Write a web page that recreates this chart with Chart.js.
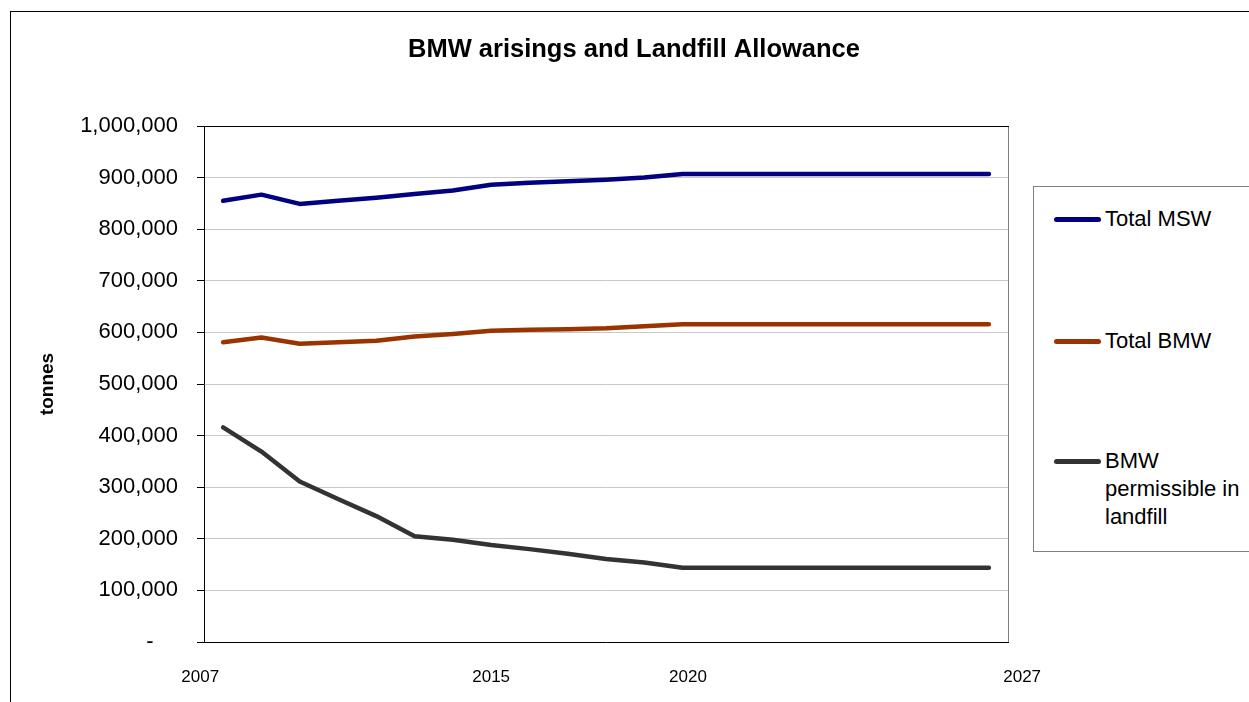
<!DOCTYPE html>
<html>
<head>
<meta charset="utf-8">
<script src="https://cdn.jsdelivr.net/npm/chart.js@4.4.1/dist/chart.umd.min.js"></script>
<style>
  html, body { margin:0; padding:0; background:#fff; overflow:hidden; }
  body { width:1249px; height:702px; position:relative; font-family:"Liberation Sans", Arial, sans-serif; }
  #frame { position:absolute; left:10px; top:11px; width:1270px; height:720px; border:1px solid #000; box-sizing:border-box; }
  #c { position:absolute; left:0; top:0; }
  #legend { position:absolute; left:1033px; top:186px; width:260px; height:366px; border:1px solid #808080; box-sizing:border-box; background:#fff; }
  .item { position:absolute; left:0; }
  .swatch { position:absolute; left:20px; width:47px; height:4.5px; border-radius:3px; }
  .txt { position:absolute; left:71px; width:145px; font-size:22px; line-height:28px; color:#000; }
</style>
</head>
<body>
<div id="frame"></div>
<canvas id="c" width="1249" height="702"></canvas>
<div id="legend"></div>
<script>
// ---- data ----
const years = [2007,2008,2009,2010,2011,2012,2013,2014,2015,2016,2017,2018,2019,2020,2021,2022,2023,2024,2025,2026,2027];
const totalMSW = [855000,867000,849000,855000,861000,868000,875000,886000,890000,893000,896000,900000,907000,907000,907000,907000,907000,907000,907000,907000,907000];
const totalBMW = [581000,590000,578000,581000,584000,592000,597000,603000,605000,606000,608000,612000,616000,616000,616000,616000,616000,616000,616000,616000,616000];
const bmwLandfill = [416000,369000,311000,277000,244000,205000,198000,188000,180000,171000,161000,154000,144000,144000,144000,144000,144000,144000,144000,144000,144000];
const seriesNames = ['Total MSW','Total BMW','BMW permissible in landfill'];
const xTickLabels = ['2007','2015','2020','2027'];
const yTicks = [0,100000,200000,300000,400000,500000,600000,700000,800000,900000,1000000];

// ---- presentation ----
const FONT = '"Liberation Sans", Arial, sans-serif';
const colors = ['#000080','#993300','#333333'];
const xTickPos = [2006.40, 2014.0, 2019.14, 2027.87]; // label placement along the axis

function pts(arr){ return years.map((yr,i)=>({x:yr, y:arr[i]})); }
const dsBase = { borderWidth:4.5, pointRadius:0, pointHoverRadius:0, tension:0, fill:false,
                 borderCapStyle:'round', borderJoinStyle:'round' };

const frame = {
  id:'plotFrame',
  afterDraw(chart){
    const {ctx, chartArea:a} = chart;
    ctx.save();
    ctx.lineWidth = 1;
    ctx.strokeStyle = '#808080';
    ctx.beginPath(); ctx.moveTo(a.right+0.5, a.top); ctx.lineTo(a.right+0.5, a.bottom); ctx.stroke();
    ctx.strokeStyle = '#000';
    ctx.beginPath(); ctx.moveTo(a.left-7, a.top+0.5); ctx.lineTo(a.right+1, a.top+0.5); ctx.stroke();
    ctx.restore();
  }
};

const chart = new Chart(document.getElementById('c'), {
  type:'line',
  data:{
    datasets:[
      Object.assign({label:seriesNames[0], data:pts(totalMSW), borderColor:colors[0], backgroundColor:colors[0]}, dsBase),
      Object.assign({label:seriesNames[1], data:pts(totalBMW), borderColor:colors[1], backgroundColor:colors[1]}, dsBase),
      Object.assign({label:seriesNames[2], data:pts(bmwLandfill), borderColor:colors[2], backgroundColor:colors[2]}, dsBase)
    ]
  },
  options:{
    responsive:false, animation:false, devicePixelRatio:1,
    layout:{ padding:{left:19, right:0, top:0, bottom:0} },
    plugins:{
      legend:{display:false},
      tooltip:{enabled:false},
      title:{ display:true, text:'BMW arisings and Landfill Allowance', color:'#000',
              font:{family:FONT, size:25.5, weight:'bold'}, padding:{top:35, bottom:60.4} }
    },
    scales:{
      x:{
        type:'linear', min:2006.5, max:2027.5,
        afterBuildTicks(s){ s.ticks = xTickPos.map(v=>({value:v})); },
        ticks:{ callback:(v,i)=>xTickLabels[i], color:'#000', font:{family:FONT, size:17},
                padding:25, autoSkip:false, maxRotation:0 },
        grid:{ display:false, drawTicks:false },
        border:{ display:true, color:'#000', width:1 },
        afterFit(s){ s.height = 60; }
      },
      y:{
        min:0, max:1000000,
        afterBuildTicks(s){ s.ticks = yTicks.map(v=>({value:v})); },
        ticks:{ color:'#000', font:{family:FONT, size:22}, padding:19,
                callback:(v)=> v===0 ? '-    ' : v.toLocaleString('en-US') },
        grid:{ color:'#c8c8c8', tickColor:'#000', tickLength:7, lineWidth:1 },
        border:{ display:true, color:'#000', width:1 },
        title:{ display:true, text:'tonnes', color:'#000', font:{family:FONT, size:19, weight:'bold'},
                padding:{top:17, bottom:0} },
        afterFit(s){ s.width = 185; }
      },
      y2:{
        position:'right', display:true,
        ticks:{display:false}, grid:{display:false, drawTicks:false}, border:{display:false},
        afterFit(s){ s.width = 241; }
      }
    }
  },
  plugins:[frame]
});

// ---- legend built from the chart datasets ----
const legendRowTops = [18, 140, 260];
const legend = document.getElementById('legend');
chart.data.datasets.forEach((ds, i) => {
  const item = document.createElement('div');
  item.className = 'item';
  item.style.top = legendRowTops[i] + 'px';
  const sw = document.createElement('div');
  sw.className = 'swatch';
  sw.style.background = ds.borderColor;
  sw.style.top = '12px';
  const tx = document.createElement('div');
  tx.className = 'txt';
  tx.textContent = ds.label;
  item.appendChild(sw); item.appendChild(tx);
  legend.appendChild(item);
});
</script>
</body>
</html>
